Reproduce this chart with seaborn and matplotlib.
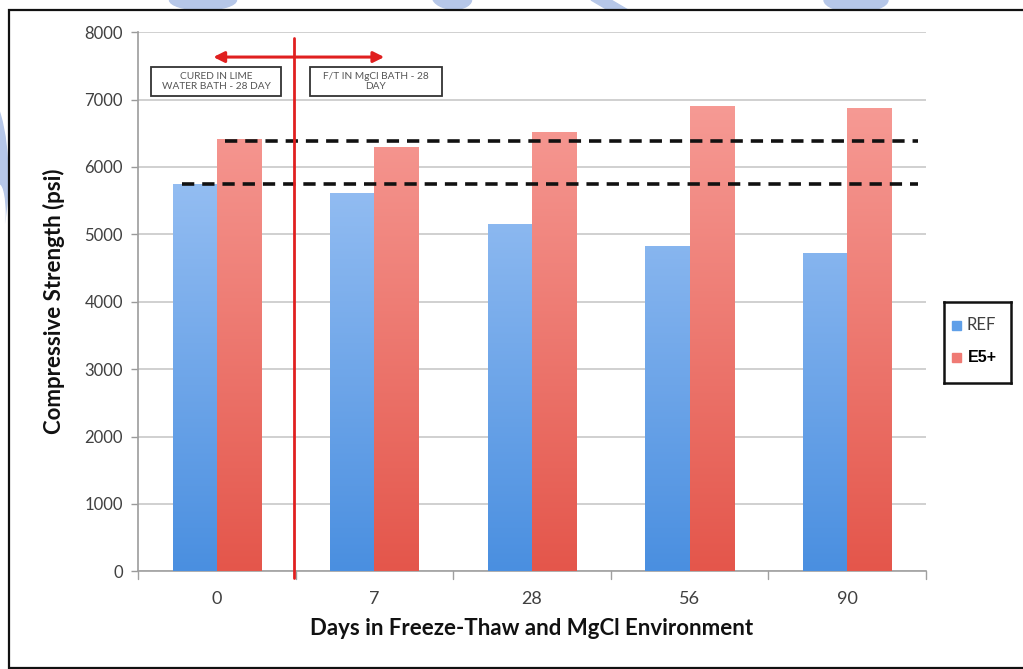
import numpy as np
import pandas as pd
import matplotlib
matplotlib.use("Agg")
import matplotlib.pyplot as plt
from matplotlib.colors import LinearSegmentedColormap
from matplotlib.patches import Rectangle, FancyArrowPatch, Ellipse, Polygon
import seaborn as sns

# Compressive strength by exposure duration
days = ["0", "7", "28", "56", "90"]
ref_psi = [5750, 5620, 5150, 4830, 4720]
e5_psi = [6420, 6300, 6520, 6900, 6870]
series = ["REF", "E5+"]
baseline_e5 = 6390
baseline_ref = 5740
y_ticks = [0, 1000, 2000, 3000, 4000, 5000, 6000, 7000, 8000]

df = pd.DataFrame({
    "Days": days * 2,
    "Strength": ref_psi + e5_psi,
    "Mix": [series[0]] * len(days) + [series[1]] * len(days),
})

sns.set_theme(style="white")
plt.rcParams["font.family"] = ["Lato", "DejaVu Sans"]

W, H = 1023, 669
fig = plt.figure(figsize=(W / 100, H / 100), dpi=100)


def px(x, y):
    return (x / W, 1 - y / H)


# pale page decoration behind the framed chart
deco = "#b6c7e8"
fig.patches.append(Ellipse(px(203, 0), 67 / W, 20 / H, transform=fig.transFigure, color=deco, zorder=-3))
fig.patches.append(Ellipse(px(452, -2), 40 / W, 22 / H, angle=-20, transform=fig.transFigure, color=deco, zorder=-3))
fig.patches.append(Polygon([px(591, 0), px(611, 0), px(628, 10), px(608, 10)], closed=True,
                           transform=fig.transFigure, color=deco, zorder=-3))
fig.patches.append(Ellipse(px(856, 0), 64 / W, 24 / H, transform=fig.transFigure, color=deco, zorder=-3))
fig.patches.append(Ellipse(px(-18, 178), 52 / W, 178 / H, transform=fig.transFigure, color=deco, zorder=-3))
fig.patches.append(Ellipse(px(-1, 215), 12 / W, 60 / H, transform=fig.transFigure, color="white", zorder=-2.5))

# outer frame
fig.patches.append(Rectangle(px(8.5, 667.5), 1.0, (667.5 - 9.5) / H, transform=fig.transFigure,
                             fc="white", ec="#111111", lw=1.6, zorder=-1))

ax = fig.add_axes([0.135, 0.146, 0.77, 0.806])
ax.set_facecolor("none")

palette = {"REF": "#6aa6ea", "E5+": "#ee7a72"}
sns.barplot(data=df, x="Days", y="Strength", hue="Mix", order=days,
            hue_order=series, palette=palette, width=0.56, gap=0,
            saturation=1, ax=ax, legend=False, zorder=3)

ax.set_ylim(0, 8000)
ax.set_xlim(-0.5, len(days) - 0.5)
ax.set_yticks(y_ticks)
ax.set_yticklabels([str(v) for v in y_ticks], fontsize=12, color="#404040")
ax.tick_params(axis="x", labelsize=13, colors="#404040", length=0, pad=14)
ax.tick_params(axis="y", length=5, width=1, colors="#9a9a9a", labelcolor="#404040", pad=6, left=True)
ax.yaxis.grid(True, color="#c8c8c8", linewidth=1.2, zorder=0)
ax.set_axisbelow(True)
for s in ["top", "right"]:
    ax.spines[s].set_visible(False)
ax.spines["left"].set_color("#a0a0a0")
ax.spines["bottom"].set_color("#a0a0a0")
ax.spines["bottom"].set_linewidth(1.2)

# category separator ticks on the x axis
for xb in np.arange(-0.5, len(days), 1.0):
    ax.plot([xb, xb], [0, -120], color="#a0a0a0", lw=1, clip_on=False, zorder=2)

# vertical gradient fill on each bar
grad_ref = LinearSegmentedColormap.from_list("gref", ["#4a8fe0", "#b0cff9"])
grad_e5 = LinearSegmentedColormap.from_list("ge5", ["#e4564b", "#f9a5a0"])
ramp = np.linspace(0, 1, 256).reshape(-1, 1)
for bar in ax.patches:
    x0 = bar.get_x()
    w, h = bar.get_width(), bar.get_height()
    if h <= 0:
        continue
    fc = bar.get_facecolor()
    cmap = grad_ref if fc[2] > fc[0] else grad_e5
    im = ax.imshow(ramp, cmap=cmap, origin="lower", aspect="auto",
                   extent=[x0, x0 + w, 0, 8000], zorder=3.5, vmin=0, vmax=1)
    im.set_clip_path(bar)
    bar.set_edgecolor("none")
ax.set_xlim(-0.5, len(days) - 0.5)
ax.set_ylim(0, 8000)

# reference strength levels at day 0
ax.plot([0.05, 4.45], [baseline_e5, baseline_e5], ls=(0, (3.4, 2.2)), color="#111111", lw=2.6, zorder=5)
ax.plot([-0.22, 4.45], [baseline_ref, baseline_ref], ls=(0, (3.4, 2.2)), color="#111111", lw=2.6, zorder=5)

# boundary between curing and freeze-thaw exposure
ax.plot([0.49, 0.49], [-100, 7920], color="#e02020", lw=2, clip_on=False, zorder=6)
arrow = FancyArrowPatch((-0.04, 7630), (1.08, 7630), arrowstyle="<|-|>",
                        mutation_scale=16, color="#e02020", lw=2.2, zorder=6)
ax.add_patch(arrow)

# phase annotation boxes
for (xl, xr), label in [((-0.42, 0.41), "CURED IN LIME\nWATER BATH - 28 DAY"),
                        ((0.59, 1.43), "F/T IN MgCl BATH - 28\nDAY")]:
    ax.add_patch(Rectangle((xl, 7050), xr - xl, 430, fc="white", ec="#333333", lw=1.3, zorder=7))
    ax.text((xl + xr) / 2, 7265, label, fontsize=7.3, color="#555555", ha="center", va="center",
            linespacing=1.05, zorder=8)

ax.set_ylabel("Compressive Strength (psi)", fontsize=16, fontweight="bold", color="#111111", labelpad=14)
ax.set_xlabel("Days in Freeze-Thaw and MgCl Environment", fontsize=16, fontweight="bold",
              color="#111111", labelpad=8)

# legend box
lg = fig.add_axes([0.923, 0.428, 0.065, 0.12])
lg.set_xticks([]); lg.set_yticks([])
lg.set_xlim(0, 1); lg.set_ylim(0, 1)
for s in lg.spines.values():
    s.set_linewidth(1.8)
    s.set_color("#111111")
lg.add_patch(Rectangle((0.12, 0.66), 0.13, 0.11, color="#5f9fe8"))
lg.add_patch(Rectangle((0.12, 0.26), 0.13, 0.11, color="#ef7a74"))
lg.text(0.33, 0.715, "REF", fontsize=12, color="#404040", va="center")
lg.text(0.36, 0.315, "E5+", fontsize=11.5, fontweight="bold", color="#000000", va="center",
        family=["Liberation Sans", "DejaVu Sans"])

fig.savefig("out.png", dpi=100)
